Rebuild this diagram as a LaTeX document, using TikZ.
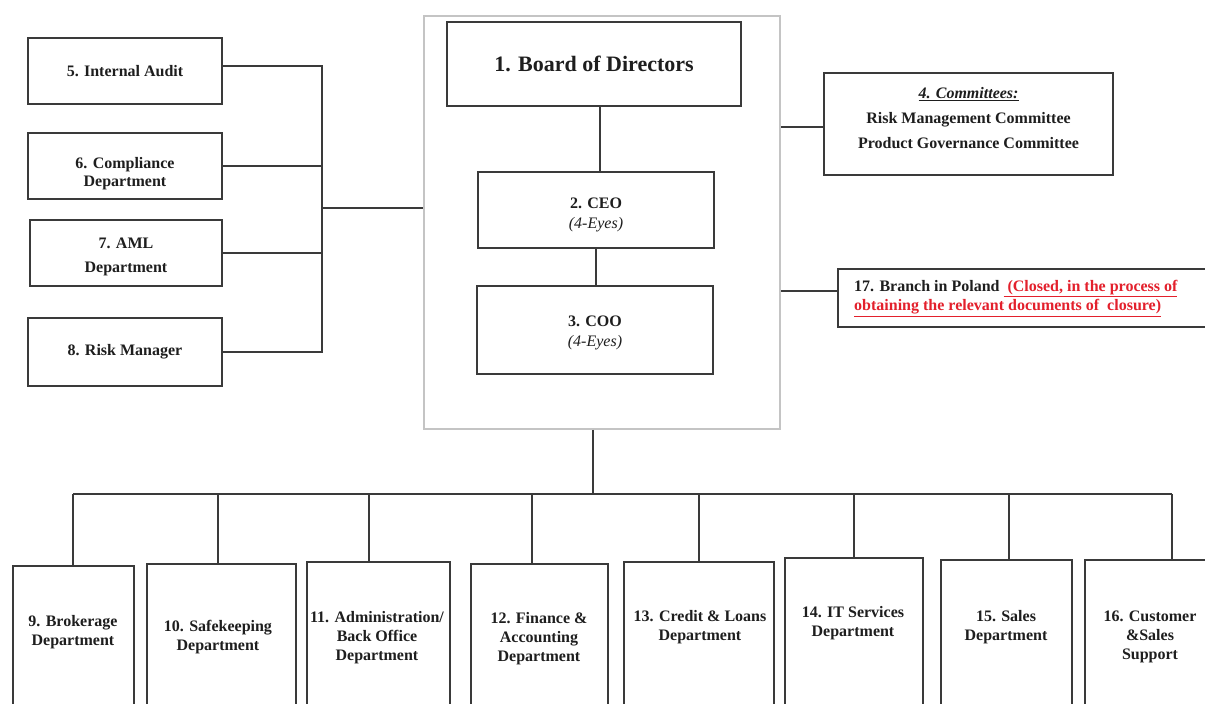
\documentclass[tikz,border=0pt]{standalone}
\usepackage{fontspec}
\setmainfont{Liberation Serif}
\usetikzlibrary{calc}
\definecolor{edgec}{HTML}{3A3A3A}
\definecolor{framec}{HTML}{C4C4C4}
\definecolor{closedc}{HTML}{E3202C}
\definecolor{txtc}{HTML}{1E1E1E}
\tikzset{
  box/.style={draw=edgec, line width=2pt, rectangle, inner sep=0pt},
  bigframe/.style={draw=framec, line width=1.6pt, rectangle, inner sep=0pt},
  lbl/.style={font=\fontsize{16}{19}\selectfont\bfseries, align=center, text=txtc, inner sep=0pt},
  conn/.style={draw=edgec, line width=2pt},
}
\begin{document}
\begin{tikzpicture}[x=1pt, y=-1pt]
\useasboundingbox (0,0) rectangle (1205,704);
\clip (0,0) rectangle (1205,704);
\fill[white] (0,0) rectangle (1205,704);

% central frame
\node[bigframe, minimum width=356pt, minimum height=413pt] (frame) at (602,222.5) {};

% top management
\node[box, lbl, minimum width=294pt, minimum height=84pt, font=\fontsize{22}{26}\selectfont\bfseries] (b1) at (594,64) {1. Board of Directors};
\node[box, lbl, minimum width=236pt, minimum height=76pt] (b2) at (596,210) {};
\node[lbl] (t2) at (596,214.5) {2. CEO\\[1pt]{\mdseries\itshape (4-Eyes)}};
\node[box, lbl, minimum width=236pt, minimum height=88pt] (b3) at (595,330) {};
\node[lbl] (t3) at (595,333) {3. COO\\[1pt]{\mdseries\itshape (4-Eyes)}};

% left control functions
\node[box, lbl, minimum width=194pt, minimum height=66pt] (b5) at (125,71) {5. Internal Audit};
\node[box, lbl, minimum width=194pt, minimum height=66pt] (b6) at (125,166) {};
\node[lbl] (t6) at (125,174) {6. Compliance\\[-1pt]Department};
\node[box, lbl, minimum width=192pt, minimum height=66pt] (b7) at (126,253) {};
\node[lbl] (t7) at (126,257) {7. AML\\[5pt]Department};
\node[box, lbl, minimum width=194pt, minimum height=68pt] (b8) at (125,352) {8. Risk Manager};

% right side
\node[box, minimum width=289pt, minimum height=102pt] (b4) at (968.5,124) {};
\node[lbl] (t4) at (968.5,118) {\itshape\underline{4. Committees:}\\[6pt]Risk Management Committee\\[6pt]Product Governance Committee};
\node[box, minimum width=402pt, minimum height=58pt] (b17) at (1039,298) {};
\node[lbl, align=left, anchor=west] (t17) at (854,298.5) {17. Branch in Poland \textcolor{closedc}{\underline{\ (Closed, in the process of}}\\\textcolor{closedc}{\underline{obtaining the relevant documents of\ \ closure)}}};

% bottom departments
\node[box, minimum width=121pt, minimum height=154pt] (b9) at (73.5,643) {};
\node[box, minimum width=149pt, minimum height=156pt] (b10) at (221.5,642) {};
\node[box, minimum width=143pt, minimum height=158pt] (b11) at (378.5,641) {};
\node[box, minimum width=137pt, minimum height=156pt] (b12) at (539.5,642) {};
\node[box, minimum width=150pt, minimum height=158pt] (b13) at (699,641) {};
\node[box, minimum width=138pt, minimum height=162pt] (b14) at (854,639) {};
\node[box, minimum width=131pt, minimum height=160pt] (b15) at (1006.5,640) {};
\node[box, minimum width=170pt, minimum height=160pt] (b16) at (1170,640) {};

\node[lbl] (t9) at (73,632) {9. Brokerage\\Department};
\node[lbl] (t10) at (218,637) {10. Safekeeping\\Department};
\node[lbl] (t11) at (377,638) {11. Administration/\\Back Office\\Department};
\node[lbl] (t12) at (539,639) {12. Finance \&\\Accounting\\Department};
\node[lbl] (t13) at (700,627.5) {13. Credit \& Loans\\Department};
\node[lbl] (t14) at (853,623.5) {14. IT Services\\Department};
\node[lbl] (t15) at (1006,627.5) {15. Sales\\Department};
\node[lbl] (t16) at (1150,636.5) {16. Customer\\\&Sales\\Support};

% connectors: left bus
\coordinate (lb) at (322,208);
\draw[conn] ([yshift=5pt]b5.east) -| (lb);
\draw[conn] (b6.east) -| (lb);
\draw[conn] (b7.east) -| (lb);
\draw[conn] (b8.east) -| (lb);
\draw[conn] (lb) -- (lb -| frame.west);

% inner chain
\draw[conn] ([xshift=4pt]b2.north) -- ([xshift=4pt]b2.north |- b1.south);
\draw[conn] (b2.south) -- (b2.south |- b3.north);

% right connectors
\coordinate (r4) at ([yshift=-3pt]b4.west);
\draw[conn] (r4) -- (r4 -| frame.east);
\coordinate (r17) at ([yshift=7pt]b17.west);
\draw[conn] (r17) -- (r17 -| frame.east);

% bottom bus
\coordinate (bus) at (593,494);
\draw[conn] (bus |- frame.south) -- (bus);
\coordinate (d9) at ([xshift=-0.5pt]b9.north);
\coordinate (d10) at ([xshift=-3.5pt]b10.north);
\coordinate (d11) at ([xshift=-9.5pt]b11.north);
\coordinate (d12) at ([xshift=-7.5pt]b12.north);
\coordinate (d13) at (b13.north);
\coordinate (d14) at (b14.north);
\coordinate (d15) at ([xshift=2.5pt]b15.north);
\coordinate (d16) at ([xshift=2pt]b16.north);
\draw[conn] (d9 |- bus) -- (d16 |- bus);
\foreach \d in {d9,d10,d11,d12,d13,d14,d15,d16}
  \draw[conn] (\d) -- (\d |- bus);
\end{tikzpicture}
\end{document}
